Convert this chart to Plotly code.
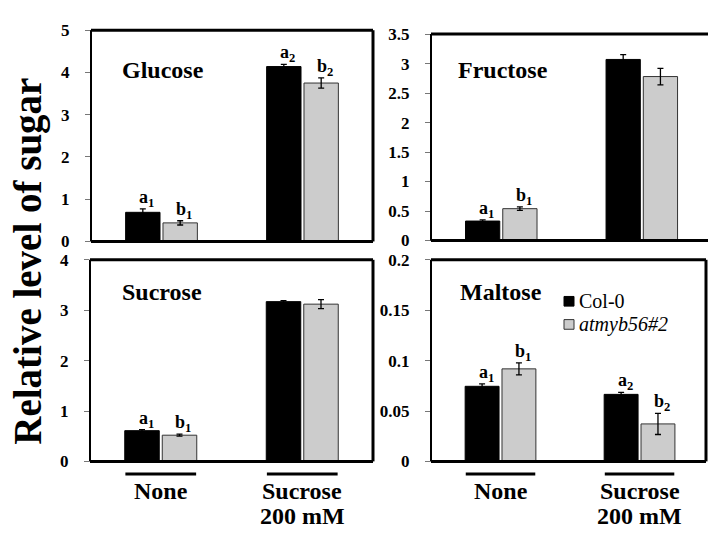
import plotly.graph_objects as go

W, H = 708, 537
FONT = "Times New Roman, Liberation Serif, serif"

treatments = ["None", "Sucrose<br>200 mM"]
series_names = ["Col-0", "atmyb56#2"]
panel_names = ["Glucose", "Fructose", "Sucrose", "Maltose"]

glucose_col0 = [0.69, 4.14]
glucose_col0_err = [0.08, 0.05]
glucose_myb = [0.44, 3.75]
glucose_myb_err = [0.05, 0.12]

fructose_col0 = [0.33, 3.07]
fructose_col0_err = [0.02, 0.08]
fructose_myb = [0.54, 2.78]
fructose_myb_err = [0.03, 0.14]

sucrose_col0 = [0.61, 3.17]
sucrose_col0_err = [0.02, 0.02]
sucrose_myb = [0.52, 3.12]
sucrose_myb_err = [0.02, 0.09]

maltose_col0 = [0.0745, 0.0665]
maltose_col0_err = [0.0025, 0.002]
maltose_myb = [0.0918, 0.0372]
maltose_myb_err = [0.006, 0.0105]

glucose_letters = [["a<sub>1</sub>", "a<sub>2</sub>"], ["b<sub>1</sub>", "b<sub>2</sub>"]]
fructose_letters = [["a<sub>1</sub>", ""], ["b<sub>1</sub>", ""]]
sucrose_letters = [["a<sub>1</sub>", ""], ["b<sub>1</sub>", ""]]
maltose_letters = [["a<sub>1</sub>", "a<sub>2</sub>"], ["b<sub>1</sub>", "b<sub>2</sub>"]]

y_ranges = [[0, 5], [0, 3.5], [0, 4], [0, 0.2]]
y_dticks = [1, 0.5, 1, 0.05]

# pixel boxes (left, right, top, bottom)
boxes = [(91, 373, 22, 241), (431, 708, 26, 240), (90, 373, 260, 469), (431, 706, 260, 469)]
x_ranges = [[-0.5, 1.5], [-0.5, 1.471], [-0.5, 1.5], [-0.5, 1.478]]
title_pos = [(0.103, 0.813), (0.09, 0.827), (0.106, 0.842), (0.098, 0.842)]

panels = [
    (glucose_col0, glucose_col0_err, glucose_myb, glucose_myb_err, glucose_letters),
    (fructose_col0, fructose_col0_err, fructose_myb, fructose_myb_err, fructose_letters),
    (sucrose_col0, sucrose_col0_err, sucrose_myb, sucrose_myb_err, sucrose_letters),
    (maltose_col0, maltose_col0_err, maltose_myb, maltose_myb_err, maltose_letters),
]

colors = ["#000000", "#CCCCCC"]
outlines = ["#000000", "#333333"]

fig = go.Figure()
xs = [0, 1]
annotations = []
shapes = []
layout = {}

for i, (c0, c0e, m, me, letters) in enumerate(panels):
    n = "" if i == 0 else str(i + 1)
    xa, ya = "x" + n, "y" + n
    for s, (vals, errs) in enumerate([(c0, c0e), (m, me)]):
        fig.add_trace(go.Bar(
            x=xs, y=vals, name=series_names[s], xaxis=xa, yaxis=ya,
            marker=dict(color=colors[s], line=dict(color=outlines[s], width=1)),
            error_y=dict(type="data", array=errs, color="black", thickness=1.3, width=3),
            showlegend=False,
        ))
        for j in range(2):
            if letters[s][j]:
                off = -0.132 if s == 0 else 0.132
                annotations.append(dict(
                    x=xs[j] + off, y=vals[j] + errs[j], xref=xa, yref=ya,
                    text="<b>" + letters[s][j] + "</b>", showarrow=False,
                    xanchor="center", yanchor="bottom", xshift=4, yshift=-3,
                    font=dict(family=FONT, size=18, color="black"),
                ))
    l, r, t, b = boxes[i]
    xdom = [l / W, r / W]
    ydom = [(H - b) / H, (H - t) / H]
    bottom_row = i >= 2
    layout["xaxis" + n] = dict(
        domain=xdom, range=x_ranges[i], anchor=ya, showgrid=False, zeroline=False,
        showticklabels=False, ticks="", showline=False, fixedrange=True,
    )
    layout["yaxis" + n] = dict(
        domain=ydom, range=y_ranges[i], dtick=y_dticks[i], tick0=0, anchor=xa,
        showgrid=False, zeroline=False, ticks="outside", ticklen=5, tickcolor="#777777",
        tickwidth=1, showline=True, linecolor="#777777", linewidth=1,
        ticklabelstandoff=12,
        tickfont=dict(family=FONT, size=17, color="black", weight="bold"),
        fixedrange=True,
    )
    dx, dy = xa + " domain", ya + " domain"
    # frame lines
    shapes.append(dict(type="line", xref=dx, yref=dy, x0=0, x1=1, y0=1, y1=1, line=dict(color="black", width=3)))
    shapes.append(dict(type="line", xref=dx, yref=dy, x0=0, x1=1, y0=0, y1=0, line=dict(color="black", width=3)))
    shapes.append(dict(type="line", xref=dx, yref=dy, x0=0, x1=0, y0=0, y1=1, line=dict(color="black", width=2)))
    if i != 1:
        shapes.append(dict(type="line", xref=dx, yref=dy, x0=1, x1=1, y0=0, y1=1, line=dict(color="black", width=3)))
    # panel title
    annotations.append(dict(
        x=title_pos[i][0], y=title_pos[i][1], xref=dx, yref=dy, text="<b>" + panel_names[i] + "</b>",
        showarrow=False, xanchor="left", yanchor="middle",
        font=dict(family=FONT, size=24, color="black"),
    ))
    # category labels + group underlines for bottom row
    if bottom_row:
        for j in range(2):
            shapes.append(dict(type="line", xref=xa, yref="paper", x0=xs[j] - 0.25, x1=xs[j] + 0.25,
                               y0=(H - 482) / H, y1=(H - 482) / H, line=dict(color="black", width=3)))
            for k, line_txt in enumerate(treatments[j].split("<br>")):
                annotations.append(dict(
                    x=xs[j], y=(H - 500 - 26 * k) / H, xref=xa, yref="paper",
                    text="<b>" + line_txt + "</b>", showarrow=False,
                    xanchor="center", yanchor="middle",
                    font=dict(family=FONT, size=24, color="black"),
                ))

# y-axis title
annotations.append(dict(
    x=28 / W, y=(H - 262) / H, xref="paper", yref="paper", text="<b>Relative level of sugar</b>",
    textangle=-90, showarrow=False, xanchor="center", yanchor="middle",
    font=dict(family=FONT, size=39, color="black"),
))

# legend (in Maltose panel)
leg_rows = [(303, colors[0], outlines[0], series_names[0], False), (327, colors[1], outlines[1], series_names[1], True)]
for yc, col, oc, name, ital in leg_rows:
    shapes.append(dict(type="rect", xref="paper", yref="paper",
                       x0=564 / W, x1=574 / W, y0=(H - yc - 5) / H, y1=(H - yc + 5) / H,
                       fillcolor=col, line=dict(color=oc, width=1)))
    annotations.append(dict(
        x=577 / W, y=(H - yc) / H, xref="paper", yref="paper",
        text=("<i>" + name + "</i>") if ital else name, showarrow=False,
        xanchor="left", yanchor="middle", font=dict(family=FONT, size=20, color="black"),
    ))

fig.update_layout(
    width=W, height=H, margin=dict(l=0, r=0, t=0, b=0),
    paper_bgcolor="white", plot_bgcolor="white",
    barmode="group", bargap=0.47, bargroupgap=0.08,
    annotations=annotations, shapes=shapes, **layout,
)

fig.write_html(
    "out.html",
    config={"displayModeBar": False},
    post_script="document.body.style.margin='0';document.body.style.overflow='hidden';",
)
